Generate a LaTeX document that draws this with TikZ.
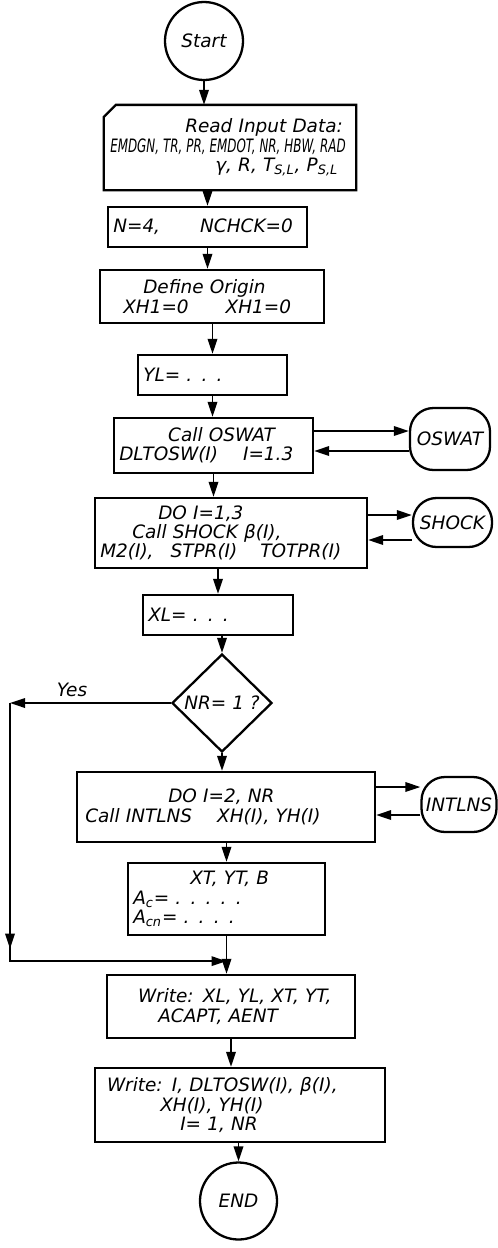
\documentclass[tikz,border=0pt]{standalone}
\usepackage{fontspec}
\setmainfont{DejaVu Sans}
\usepackage{graphicx}
\usetikzlibrary{arrows.meta,shapes.geometric}

\begin{document}
\begin{tikzpicture}[
    every node/.style={font=\itshape\fontsize{10.5}{11}\selectfont},
    flowbox/.style={draw, line width=1.3pt, inner xsep=3pt, inner ysep=2pt, align=left},
    termnode/.style={draw, circle, line width=1.3pt, minimum size=1.56cm, inner sep=0pt},
    subnode/.style={draw, rectangle, rounded corners=0.47cm, line width=1.3pt, inner sep=0pt},
    flowarrow/.style={-{Triangle[length=3mm, width=1.9mm]}, line width=1pt}
]
    \useasboundingbox (0,0) rectangle (9.96,-24.96);

    % Начало и ввод данных
    \node[termnode] (start) at (4.08,-0.82) {Start};
    \node[flowbox, draw=none, text width=4.79cm, minimum height=1.66cm] (read) at (4.6,-2.95)
        {\hspace*{1.5cm}Read Input Data:\\
         \scalebox{0.645}[1]{EMDGN, TR, PR, EMDOT, NR, HBW, RAD}\\
         \hspace*{2.1cm}γ, R, T\textsubscript{S,L}, P\textsubscript{S,L}};
    \draw[line width=1.3pt] ([xshift=0.24cm]read.north west) -- (read.north east) -- (read.south east)
        -- (read.south west) -- ([yshift=-0.24cm]read.north west) -- cycle;

    \node[flowbox, text width=3.77cm, minimum height=0.8cm] (ncheck) at (4.15,-4.54) {N=4,\hspace{0.8cm}NCHCK=0};
    \node[flowbox, text width=4.27cm, minimum height=1.06cm] (origin) at (4.24,-5.93)
        {\hspace*{0.76cm}Define Origin\\ \hspace*{0.36cm}XH1=0\hspace{0.74cm}XH1=0};
    \node[flowbox, text width=2.77cm, minimum height=0.8cm] (yl) at (4.25,-7.5) {YL= . . .};

    % Подпрограммы OSWAT и SHOCK
    \node[flowbox, text width=3.77cm, minimum height=1.1cm] (callos) at (4.27,-8.91)
        {\hspace*{0.98cm}Call OSWAT\\ DLTOSW(I)\hspace{0.5cm}I=1.3};
    \node[subnode, minimum width=1.6cm, minimum height=1.24cm] (oswat) at (9.0,-8.78) {OSWAT};
    \node[flowbox, text width=5.23cm, minimum height=1.4cm] (callsh) at (4.62,-10.66)
        {\hspace*{1.16cm}DO I=1,3\\ \hspace*{0.64cm}Call SHOCK β(I),\\ M2(I),\hspace{0.34cm}STPR(I)\hspace{0.46cm}TOTPR(I)};
    \node[subnode, minimum width=1.58cm, minimum height=0.98cm] (shock) at (9.05,-10.45) {SHOCK};
    \node[flowbox, text width=2.79cm, minimum height=0.8cm] (xl) at (4.36,-12.3) {XL= . . .};

    % Проверка NR
    \node[draw, diamond, line width=1.3pt, minimum width=2cm, minimum height=1.96cm, inner sep=0pt] (test) at (4.44,-14.06) {NR= 1 ?};
    \node (yes) at (1.44,-13.8) {Yes};

    % Подпрограмма INTLNS
    \node[flowbox, text width=5.75cm, minimum height=1.4cm] (callint) at (4.52,-16.14)
        {\hspace*{1.72cm}DO I=2, NR\\ \hspace*{0.06cm}Call INTLNS\hspace{0.5cm}XH(I), YH(I)};
    \node[subnode, minimum width=1.5cm, minimum height=1.1cm] (intlns) at (9.18,-16.09) {INTLNS};
    \node[flowbox, text width=3.73cm, minimum height=1.44cm] (geom) at (4.53,-17.98)
        {\hspace*{1.14cm}XT, YT, B\\ A\textsubscript{c}= . . . . .\\ A\textsubscript{cn}= . . . .};

    % Вывод и конец
    \node[flowbox, text width=4.75cm, minimum height=1.26cm] (write1) at (4.62,-20.13)
        {\hspace*{0.52cm}Write: XL, YL, XT, YT,\\ \hspace*{0.92cm}ACAPT, AENT};
    \node[flowbox, text width=5.59cm, minimum height=1.48cm] (write2) at (4.8,-22.1)
        {\hspace*{0.14cm}Write: I, DLTOSW(I), β(I),\\ \hspace*{1.2cm}XH(I), YH(I)\\ \hspace*{1.6cm}I= 1, NR};
    \node[termnode, minimum size=1.54cm] (finish) at (4.77,-24.02) {END};

    % Основные стрелки
    \draw[flowarrow] (start.south) -- (start.south |- read.north);
    \draw[flowarrow] (ncheck.north |- read.south) -- (ncheck.north);
    \draw[flowarrow] (ncheck.south) -- (ncheck.south |- origin.north);
    \draw[flowarrow] (yl.north |- origin.south) -- (yl.north);
    \draw[flowarrow] (yl.south) -- (yl.south |- callos.north);
    \draw[flowarrow] (callos.south) -- (callos.south |- callsh.north);
    \draw[flowarrow] (xl.north |- callsh.south) -- (xl.north);
    \draw[flowarrow] (test.north |- xl.south) -- (test.north);
    \draw[flowarrow] (test.south) -- (test.south |- callint.north);
    \draw[flowarrow] (geom.north |- callint.south) -- (geom.north);
    \coordinate (merge) at ([yshift=-0.5cm]geom.south);
    \draw[line width=1pt] (geom.south) -- (merge);
    \draw[flowarrow] (merge) -- (merge |- write1.north);
    \draw[flowarrow] (write1.south) -- (write1.south |- write2.north);
    \draw[flowarrow] (finish.north |- write2.south) -- (finish.north);

    % Вызовы подпрограмм
    \draw[flowarrow] ([yshift=0.29cm]callos.east) -- ([yshift=0.29cm]callos.east -| oswat.west);
    \draw[flowarrow] ([yshift=-0.11cm]callos.east -| oswat.west) -- ([yshift=-0.11cm]callos.east);
    \draw[flowarrow] ([yshift=0.36cm]callsh.east) -- ([yshift=0.36cm]callsh.east -| shock.west);
    \draw[flowarrow] ([yshift=-0.14cm]callsh.east -| shock.west) -- ([yshift=-0.14cm]callsh.east);
    \draw[flowarrow] ([yshift=0.4cm]callint.east) -- ([yshift=0.4cm]callint.east -| intlns.west);
    \draw[flowarrow] ([yshift=-0.16cm]callint.east -| intlns.west) -- ([yshift=-0.16cm]callint.east);

    % Ветка Yes
    \coordinate (yesup) at (0.2,-14.06);
    \coordinate (yesdown) at (merge -| yesup);
    \draw[flowarrow] (test.west) -- (yesup);
    \draw[line width=1pt] (yesup) -- (yesdown) -- (merge);
    \draw[flowarrow] (yesup) -- ([yshift=0.25cm]yesdown);
    \draw[flowarrow] (yesdown) -- (merge);
\end{tikzpicture}
\end{document}
